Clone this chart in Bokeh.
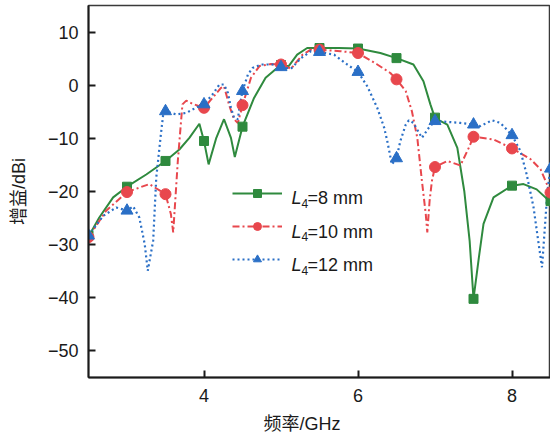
from bokeh.plotting import figure
from bokeh.models import Range1d, FixedTicker, Label, Legend, LegendItem
from bokeh.core.properties import value
from bokeh.embed import file_html
from bokeh.resources import INLINE

# ---------------- data ----------------
freq_8 = [2.5, 2.64, 2.82, 3.0, 3.25, 3.5, 3.68, 3.81, 3.94, 4.0, 4.06, 4.16, 4.26,
          4.35, 4.40, 4.5, 4.65, 4.80, 4.98, 5.1, 5.21, 5.34, 5.5, 5.75, 6.0, 6.29,
          6.5, 6.72, 6.85, 6.94, 7.0, 7.16, 7.29, 7.38, 7.45, 7.5, 7.57, 7.63, 7.76,
          8.0, 8.15, 8.32, 8.5]
gain_8 = [-28.5, -24.9, -21.1, -19.1, -16.8, -14.25, -12.1, -9.9, -7.25, -10.5, -14.9, -9.9, -6.4,
          -9.9, -13.5, -7.8, -2.4, 1.4, 3.6, 3.6, 5.75, 7.0, 7.0, 7.0, 6.9, 6.06,
          5.1, 3.9, 0.75, -3.6, -6.2, -7.4, -11.8, -19.9, -29.3, -40.2, -32.4, -26.1, -21.1,
          -18.9, -18.6, -19.6, -22.0]

freq_10 = [2.5, 2.73, 3.0, 3.29, 3.5, 3.57, 3.6, 3.63, 3.66, 3.72, 3.77, 3.85, 4.0, 4.11,
           4.22, 4.26, 4.33, 4.39, 4.44, 4.5, 4.61, 4.72, 4.87, 5.0, 5.13, 5.28, 5.4,
           5.5, 5.77, 6.0, 6.25, 6.42, 6.5, 6.62, 6.7, 6.77, 6.83, 6.88, 6.9, 6.93,
           6.96, 7.0, 7.16, 7.33, 7.44, 7.5, 7.76, 8.0, 8.24, 8.37, 8.5]
gain_10 = [-28.6, -23.6, -20.1, -18.6, -20.5, -24.25, -27.7, -21.0, -14.25, -3.6, -2.9, -3.5, -4.25, -2.4,
           -0.5, -0.2, -3.9, -6.4, -7.1, -3.75, 1.4, 3.6, 4.0, 3.9, 3.1, 5.75, 6.8,
           6.7, 6.4, 6.06, 3.9, 2.3, 1.1, -1.1, -4.9, -9.9, -18.0, -24.25, -27.7, -21.75,
           -18.0, -15.4, -14.25, -15.1, -11.75, -9.7, -10.2, -11.9, -13.9, -15.8, -20.2]

freq_12 = [2.5, 2.69, 2.86, 3.0, 3.08, 3.16, 3.23, 3.27, 3.34, 3.38, 3.44, 3.47, 3.5, 3.64,
           3.77, 3.94, 4.0, 4.11, 4.2, 4.26, 4.31, 4.35, 4.39, 4.44, 4.46, 4.5, 4.57,
           4.63, 4.74, 4.89, 5.0, 5.13, 5.26, 5.39, 5.5, 5.69, 5.86, 6.0, 6.12, 6.25,
           6.34, 6.38, 6.44, 6.5, 6.55, 6.62, 6.66, 6.72, 6.83, 6.92, 7.0, 7.16, 7.33,
           7.5, 7.59, 7.74, 7.85, 8.0, 8.11, 8.19, 8.28, 8.34, 8.39, 8.43, 8.46, 8.5]
gain_12 = [-28.3, -24.6, -23.0, -23.6, -22.8, -24.9, -29.9, -34.9, -29.25, -17.4, -9.25, -5.5, -4.9, -5.5,
           -5.2, -3.9, -3.6, -1.75, 0.13, 0.13, -1.4, -4.25, -6.1, -6.4, -4.25, -1.1, 2.0,
           3.25, 3.9, 3.9, 3.4, 3.1, 5.1, 6.4, 6.25, 5.75, 3.9, 2.5, -0.2, -4.25,
           -8.0, -10.5, -14.9, -13.75, -10.5, -7.4, -6.6, -7.1, -9.9, -8.0, -6.75, -6.9, -7.1,
           -7.4, -7.7, -6.6, -7.1, -9.4, -12.4, -16.75, -23.0, -29.25, -34.25, -26.1, -19.9, -15.7]

marker_freq = [2.5, 3.0, 3.5, 4.0, 4.5, 5.0, 5.5, 6.0, 6.5, 7.0, 7.5, 8.0, 8.5]
marker_8 = [-28.3, -19.1, -14.25, -10.5, -7.8, 3.8, 7.0, 6.9, 5.1, -6.1, -40.2, -18.9, -21.8]
marker_10 = [-28.6, -20.1, -20.5, -4.25, -3.75, 3.9, 6.7, 6.06, 1.1, -15.4, -9.7, -11.9, -20.2]
marker_12 = [-28.3, -23.6, -4.9, -3.6, -1.1, 3.4, 6.25, 2.5, -13.75, -6.75, -7.4, -9.4, -15.7]

legend_values = ["=8 mm", "=10 mm", "=12 mm"]
x_ticks = [4, 6, 8]
y_ticks = [-50, -40, -30, -20, -10, 0, 10]
y_tick_labels = ["\u221250", "\u221240", "\u221230", "\u221220", "\u221210", "0", "10"]

# ---------------- styling ----------------
GREEN = "#2f8a3e"
RED = "#e8474d"
BLUE = "#2a6fc6"
FONT = "Liberation Sans, Noto Sans CJK SC"

p = figure(width=550, height=438, output_backend="svg", toolbar_location=None,
           x_range=Range1d(2.5, 8.5), y_range=Range1d(-55, 15),
           min_border_left=88, min_border_right=0, min_border_top=5, min_border_bottom=61)

p.xgrid.visible = False
p.ygrid.visible = False
p.outline_line_color = "#3a3a3a"
p.outline_line_width = 1.5
p.background_fill_color = "white"
p.border_fill_color = "white"

for ax in (p.xaxis[0], p.yaxis[0]):
    ax.axis_line_color = "#1a1a1a"
    ax.axis_line_width = 2
    ax.major_tick_line_color = "#1a1a1a"
    ax.major_tick_line_width = 2
    ax.major_tick_in = 7
    ax.major_tick_out = 0
    ax.minor_tick_line_color = None
    ax.major_label_text_font = FONT
    ax.major_label_text_font_size = "18px"
    ax.major_label_text_color = "#1a1a1a"
    ax.axis_label_text_font = FONT
    ax.axis_label_text_font_size = "18px"
    ax.axis_label_text_font_style = "normal"
    ax.axis_label_text_color = "#1a1a1a"

p.xaxis.ticker = FixedTicker(ticks=x_ticks)
p.yaxis.ticker = FixedTicker(ticks=y_ticks)
p.yaxis.major_label_overrides = {t: lab for t, lab in zip(y_ticks, y_tick_labels)}
p.xaxis.major_label_standoff = 11
p.yaxis.major_label_standoff = 10

p.yaxis.axis_label = "增益/dBi"
p.yaxis.axis_label_standoff = 16
# trailing no-break spaces shift the centred title left, as in the reference
p.xaxis.axis_label = "频率/GHz" + "\u00a0" * 7
p.xaxis.axis_label_standoff = 9

# curves
l8 = p.line(freq_8, gain_8, line_color=GREEN, line_width=2)
l10 = p.line(freq_10, gain_10, line_color=RED, line_width=2, line_dash="7 3 2 3")
l12 = p.line(freq_12, gain_12, line_color=BLUE, line_width=2.2, line_dash="2 3")

m8 = p.scatter(marker_freq, marker_8, marker="square", size=9, fill_color=GREEN, line_color=GREEN)
m10 = p.scatter(marker_freq, marker_10, marker="circle", size=11, fill_color=RED, line_color=RED)
m12 = p.scatter(marker_freq, marker_12, marker="triangle", size=12, fill_color=BLUE, line_color=BLUE)

legend = Legend(items=[LegendItem(label=" ", renderers=[l8, m8]),
                       LegendItem(label=" ", renderers=[l10, m10]),
                       LegendItem(label=" ", renderers=[l12, m12])],
                location=(144, 108), orientation="vertical",
                glyph_width=50, glyph_height=20, label_width=0, label_height=20,
                label_text_font_size="2px", spacing=13, padding=0, margin=0,
                border_line_color=None, background_fill_alpha=0)
p.add_layout(legend, "center")

for i, txt in enumerate(legend_values):
    base = 377 - (197.5 + 33.5 * i)
    p.add_layout(Label(x=203, y=base, x_units="screen", y_units="screen", text="L",
                       text_font=FONT, text_font_size="18px", text_font_style="italic",
                       text_color="#1a1a1a", text_baseline="alphabetic"))
    p.add_layout(Label(x=213, y=base - 5, x_units="screen", y_units="screen", text="4",
                       text_font=FONT, text_font_size="12px",
                       text_color="#1a1a1a", text_baseline="alphabetic"))
    p.add_layout(Label(x=219, y=base, x_units="screen", y_units="screen", text=txt,
                       text_font=FONT, text_font_size="18px",
                       text_color="#1a1a1a", text_baseline="alphabetic"))

open("out.html", "w").write(file_html(p, INLINE))
